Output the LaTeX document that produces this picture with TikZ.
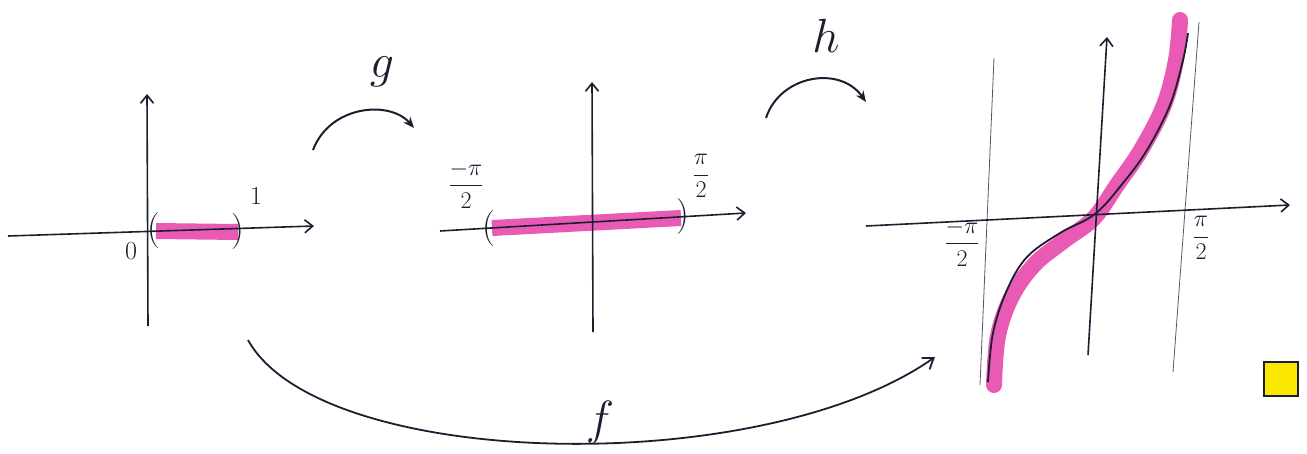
\documentclass[tikz,border=0pt]{standalone}
\usepackage{fix-cm}
\usepackage{amsmath}
\usetikzlibrary{arrows.meta}
\definecolor{pen}{RGB}{28,30,48}
\definecolor{marker}{RGB}{230,72,172}
\definecolor{hilite}{RGB}{250,232,0}

\begin{document}
\begin{tikzpicture}[x=1pt, y=-1pt,
  axis/.style={draw=pen, line width=1.6pt, -{Straight Barb[length=8pt,width=13pt]}},
  asym/.style={draw=pen!75, line width=0.8pt},
  band/.style={draw=marker, line width=16pt, opacity=0.9, line cap=round},
  mapto/.style={draw=pen, line width=2pt, -{Stealth[length=11pt,width=9pt]}},
  bigmap/.style={draw=pen, line width=1.8pt, -{Straight Barb[length=10pt,width=14pt]}},
  lbl/.style={text=pen, font=\fontsize{26}{26}\selectfont, inner sep=1pt},
  fraclbl/.style={text=pen, font=\fontsize{24}{24}\selectfont, inner sep=1pt},
  brk/.style={text=pen, font=\fontsize{36}{36}\selectfont, inner sep=0pt},
  fname/.style={text=pen, font=\fontsize{48}{48}\selectfont, inner sep=1pt}
]
  \useasboundingbox (0,0) rectangle (1307,453);

  % Left: the interval (0,1)
  \coordinate (lw) at (8,236);   \coordinate (le) at (314,226);
  \coordinate (ls) at (148,326); \coordinate (ln) at (147,94);
  \draw[band, line cap=butt] (156,231) -- (238,232);
  \draw[axis] (lw) -- (le);
  \draw[axis] (ls) -- (ln);
  \node[brk] (lopen) at (154,231) {(};
  \node[brk] (lclose) at (238,232) {)};
  \node[lbl] (zero) at (131,251) {$0$};
  \node[lbl] (one) at (256,196) {$1$};

  % Middle: the interval (-pi/2, pi/2)
  \coordinate (mw) at (440,231); \coordinate (me) at (746,213);
  \coordinate (ms) at (593,332); \coordinate (mn) at (592,82);
  \draw[band, line cap=butt] (492,228) -- (681,218);
  \draw[axis] (mw) -- (me);
  \draw[axis] (ms) -- (mn);
  \node[brk] (mopen) at (489,229) {(};
  \node[brk] (mclose) at (683,217) {)};
  \node[fraclbl] (mlo) at (466,185) {$\displaystyle\frac{-\pi}{2}$};
  \node[fraclbl] (mhi) at (701,176) {$\displaystyle\frac{\pi}{2}$};

  % Right: the tangent on (-pi/2, pi/2)
  \coordinate (rw) at (866,226);  \coordinate (re) at (1290,205);
  \coordinate (rs) at (1088,355); \coordinate (rn) at (1107,37);
  \draw[asym] (994,58) -- (980,385);
  \draw[asym] (1199,22) -- (1173,372);
  \draw[band] plot[smooth, tension=0.6] coordinates {(994,385) (998,336) (1012,296) (1035,264)
    (1065,240) (1094,218) (1117,185) (1141,150) (1164,105) (1176,60) (1180,20)};
  \draw[axis] (rw) -- (re);
  \draw[axis] (rs) -- (rn);
  \draw[draw=pen, line width=1.8pt] plot[smooth, tension=0.6] coordinates {(988,382) (993,333)
    (1007,290) (1027,257) (1060,233) (1095,214) (1123,183) (1147,150) (1170,105)
    (1183,60) (1188,33)};
  \node[fraclbl] (rlo) at (962,243) {$\displaystyle\frac{-\pi}{2}$};
  \node[fraclbl] (rhi) at (1201,238) {$\displaystyle\frac{\pi}{2}$};

  % Maps
  \coordinate (g0) at (313,150); \coordinate (g1) at (414,128);
  \coordinate (h0) at (766,118); \coordinate (h1) at (866,102);
  \coordinate (f0) at (248,340); \coordinate (f1) at (935,357);
  \draw[mapto] (g0) .. controls (330,105) and (390,100) .. (g1);
  \draw[mapto] (h0) .. controls (780,75) and (840,65) .. (h1);
  \draw[bigmap] (f0) .. controls (320,470) and (760,480) .. (f1);
  \node[fname] (g) at (382,72) {$g$};
  \node[fname] (h) at (826,36) {$h$};
  \node[fname] (f) at (600,422) {$f$};

  % End of proof
  \node[draw=pen, line width=2pt, fill=hilite, minimum size=34pt] (qed) at (1281,379) {};
\end{tikzpicture}
\end{document}
